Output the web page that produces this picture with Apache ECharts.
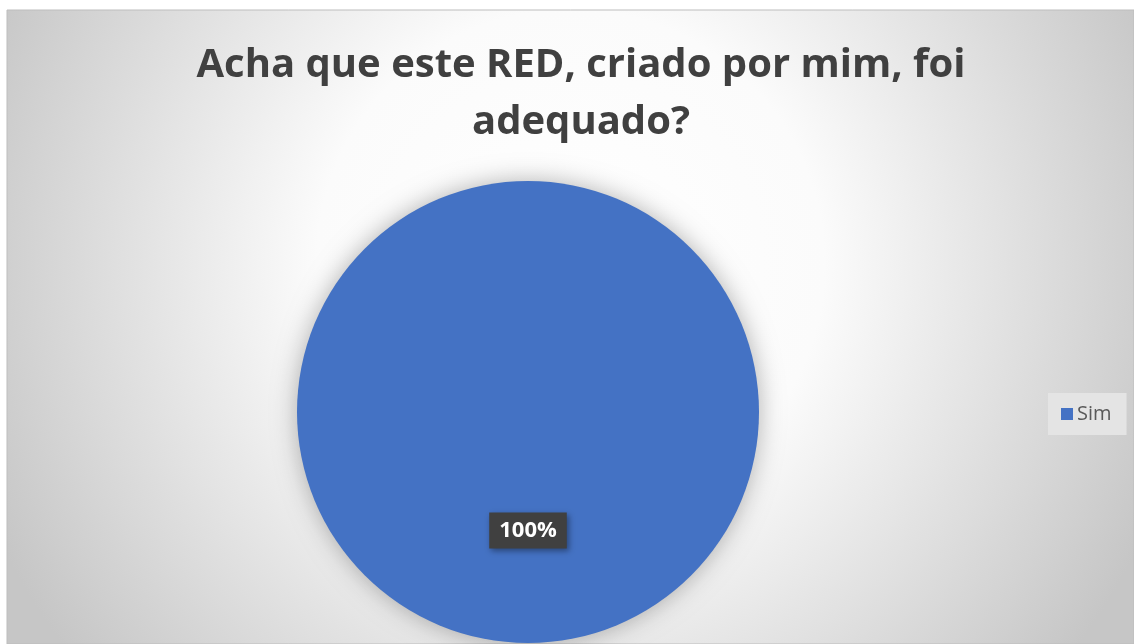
<!DOCTYPE html>
<html>
<head>
<meta charset="utf-8">
<script src="https://cdn.jsdelivr.net/npm/echarts@6/dist/echarts.min.js"></script>
<style>
  html, body { margin: 0; padding: 0; background: #fff; }
  #chart { width: 1134px; height: 644px; }
</style>
</head>
<body>
<div id="chart"></div>
<script>
const titleText = 'Acha que este RED, criado por mim, foi\nadequado?';
const categories = ['Sim'];
const values = [100];

const myChart = echarts.init(document.getElementById('chart'));

const option = {
    backgroundColor: '#ffffff',
    graphic: [{
        type: 'rect',
        z: -10,
        silent: true,
        shape: { x: 7, y: 10, width: 1127, height: 634 },
        style: {
            fill: new echarts.graphic.RadialGradient(0.5, 0.4, 1.0, [
                { offset: 0, color: '#ffffff' },
                { offset: 0.4, color: '#fbfbfb' },
                { offset: 0.75, color: '#dcdcdc' },
                { offset: 1, color: '#c6c6c6' }
            ]),
            stroke: '#bdbdbd',
            lineWidth: 1
        }
    }],
    title: {
        text: titleText,
        left: 576,
        top: 32,
        textAlign: 'center',
        textStyle: {
            fontFamily: 'Open Sans',
            fontWeight: 'bold',
            fontSize: 40,
            lineHeight: 57,
            color: '#404040'
        }
    },
    legend: {
        orient: 'vertical',
        left: 1048,
        top: 393,
        data: categories,
        icon: 'rect',
        itemWidth: 12,
        itemHeight: 12,
        itemGap: 8,
        padding: [11, 15, 11, 13],
        backgroundColor: '#e4e4e4',
        textStyle: {
            fontFamily: 'Open Sans',
            fontSize: 20,
            color: '#595959',
            padding: [0, 0, 0, -1]
        }
    },
    series: [{
        type: 'pie',
        center: [528, 412],
        radius: [0, 231],
        startAngle: 90,
        data: categories.map((name, i) => ({ name, value: values[i] })),
        color: ['#4472c4'],
        itemStyle: {
            shadowBlur: 24,
            shadowColor: 'rgba(0,0,0,0.3)'
        },
        label: {
            show: true,
            position: 'inside',
            formatter: '{d}%',
            fontFamily: 'Open Sans',
            fontWeight: 'bold',
            fontSize: 22,
            color: '#ffffff',
            backgroundColor: '#404040',
            padding: [7, 10, 7, 10],
            shadowBlur: 6,
            shadowColor: 'rgba(0,0,0,0.4)',
            shadowOffsetX: 2,
            shadowOffsetY: 2
        },
        labelLine: { show: false },
        emphasis: { disabled: true },
        animation: false
    }]
};

myChart.setOption(option);
</script>
</body>
</html>
